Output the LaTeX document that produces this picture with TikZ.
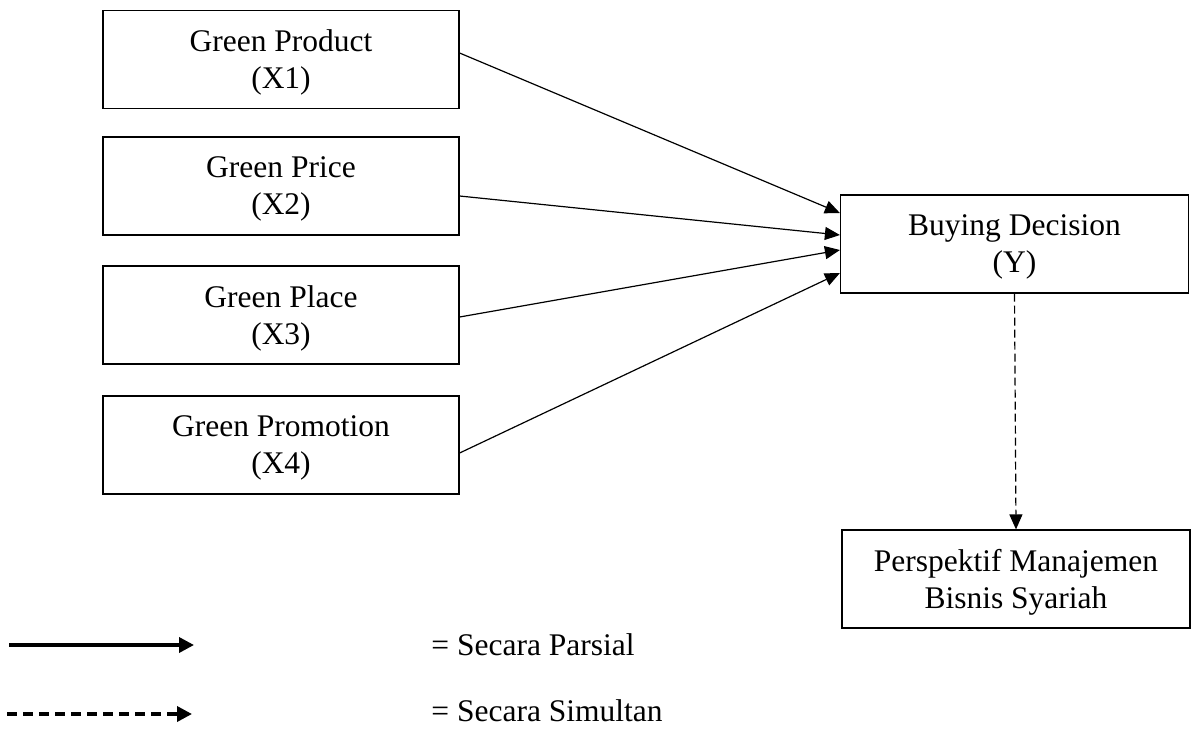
\documentclass[tikz,border=0pt]{standalone}
\usepackage{fontspec}
\setmainfont{Liberation Serif}
\usetikzlibrary{arrows.meta}
\tikzset{varbox/.style={draw, line width=0.6pt, align=center, minimum width=178pt, minimum height=49pt, inner sep=0pt, text depth=0pt},
resbox/.style={varbox, minimum width=174pt},
%solid one for partial, dashed one for simultaneous
partial/.style={line width=0.6pt, -{Triangle[length=7.5pt,width=6.5pt]}},
simult/.style={partial, dash pattern=on 4pt off 2pt},
legend/.style={line width=1.75pt, -{Triangle[length=7.5pt,width=7.5pt]}}}

\begin{document}
\begin{tikzpicture}[x=0.5pt, y=-0.5pt, font=\fontsize{15.75}{18.5}\selectfont]
\useasboundingbox (0,0) rectangle (1192,729);

\node[varbox] (x1) at (281,59.5) {Green Product\\(X1)};
\node[varbox] (x2) at (281,186) {Green Price\\(X2)};
\node[varbox] (x3) at (281,315) {Green Place\\(X3)};
\node[varbox] (x4) at (281,445) {Green Promotion\\(X4)};

\node[resbox] (y) at (1014.5,244) {Buying Decision\\(Y)};
\node[resbox] (pmbs) at (1016,579) {Perspektif Manajemen\\Bisnis Syariah};

\draw[partial] ([yshift=3.25pt]x1.east) -- ([yshift=15.5pt]y.west);
\draw[partial] ([yshift=-5pt]x2.east) -- ([yshift=4.5pt]y.west);
\draw[partial] ([yshift=-1pt]x3.east) -- ([yshift=-3pt]y.west);
\draw[partial] ([yshift=-4pt]x4.east) -- ([yshift=-14.5pt]y.west);

\draw[simult] (y.south) -- (pmbs.north);

%legend
\coordinate (l1a) at (9,645);
\coordinate (l1b) at (194,645);
\coordinate (l2a) at (7,714);
\coordinate (l2b) at (192,714);
\draw[legend] (l1a) -- (l1b);
\draw[legend, dash pattern=on 5pt off 3pt] (l2a) -- (l2b);
\node[anchor=base west, inner sep=0pt] (parsial) at (431,655) {= Secara Parsial};
\node[anchor=base west, inner sep=0pt] (simultan) at (431,721) {= Secara Simultan};

\end{tikzpicture}
\end{document}
